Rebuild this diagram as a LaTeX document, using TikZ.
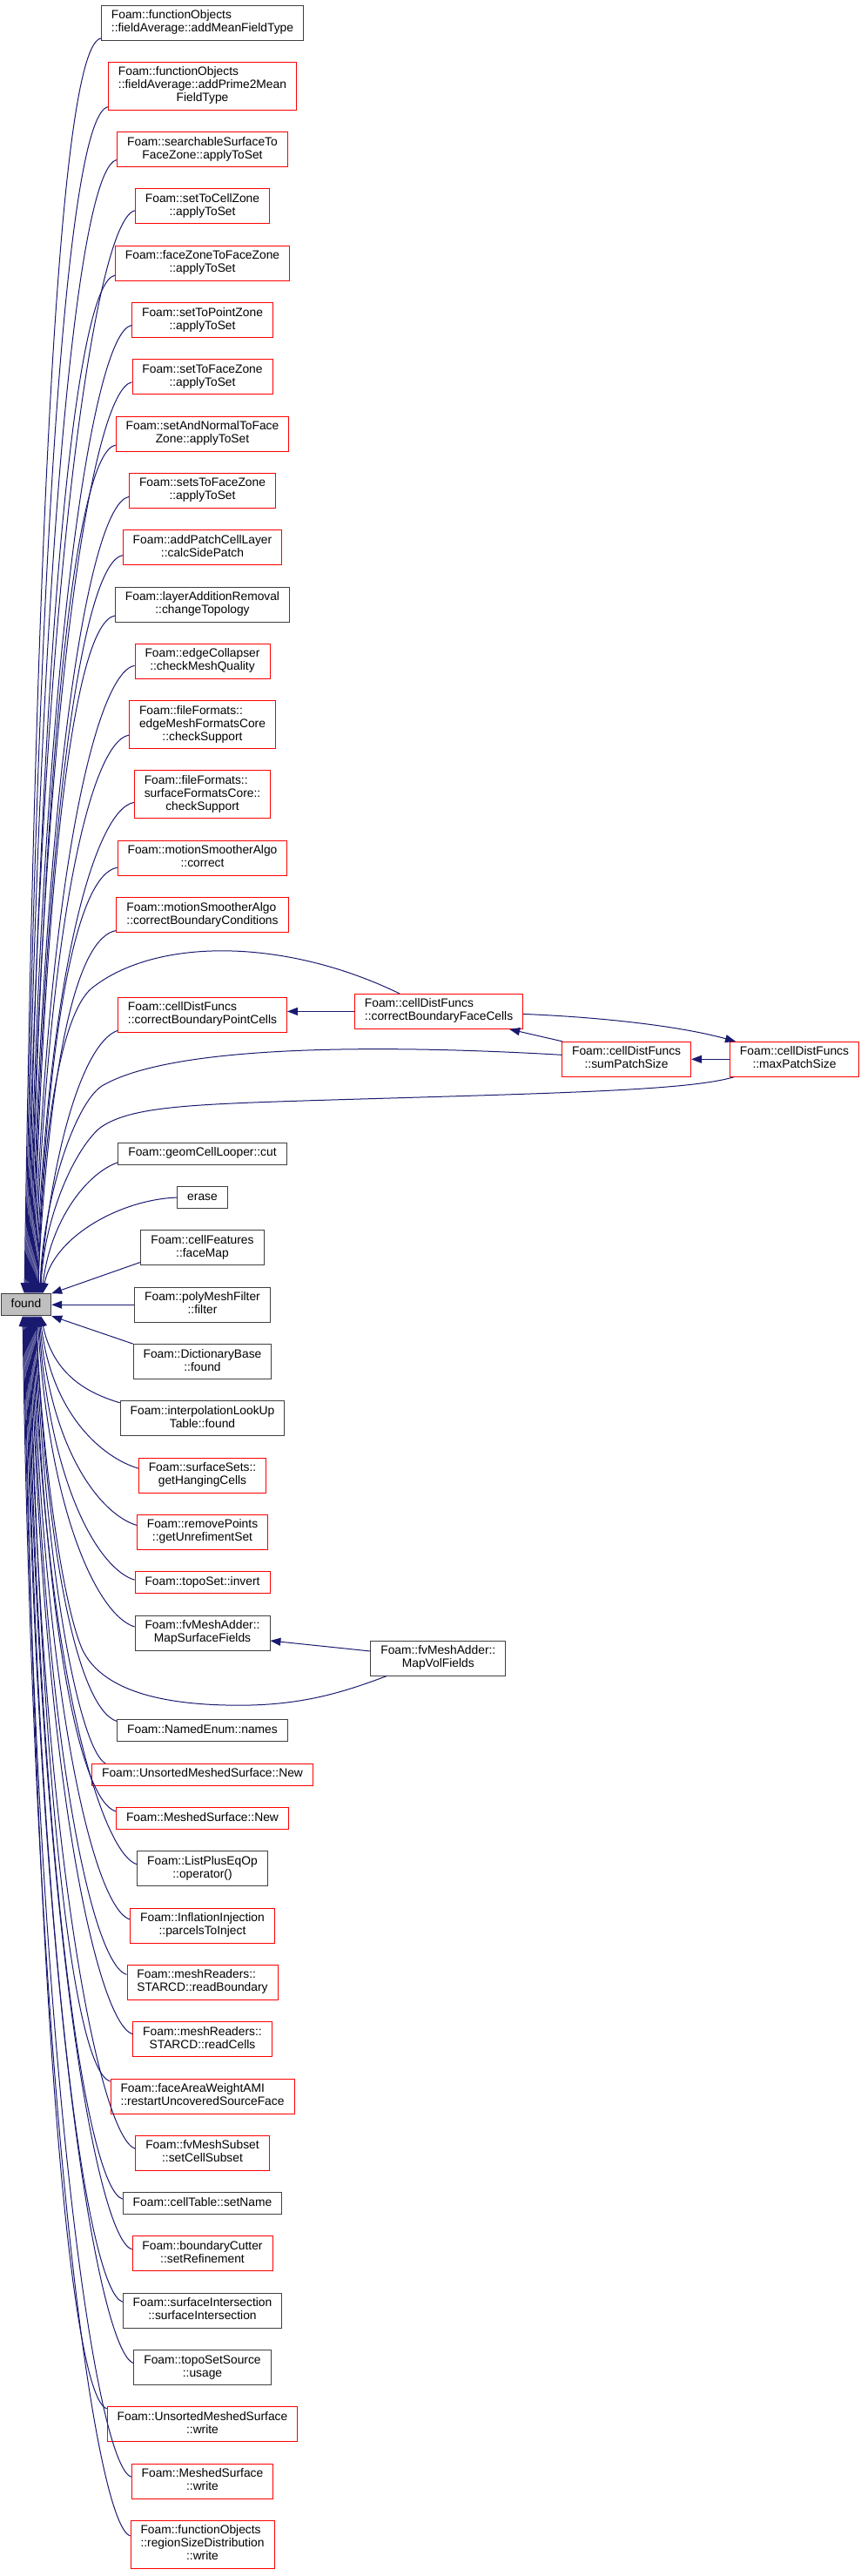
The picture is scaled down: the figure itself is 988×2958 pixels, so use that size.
\documentclass[tikz,border=0pt]{standalone}
\usepackage{fontspec}
\newfontfamily\dxfont{Liberation Sans}
\usetikzlibrary{arrows.meta, positioning}
\definecolor{dxblue}{HTML}{191970}
\definecolor{dxred}{HTML}{FF0000}
\definecolor{dxdark}{HTML}{404040}
\definecolor{dxgrey}{HTML}{BFBFBF}
% all lines left aligned except the last, which is centred
\newcommand{\dxlbl}[2]{\begin{tabular}{@{}l@{}}#1\\\multicolumn{1}{@{}c@{}}{#2}\end{tabular}}

\begin{document}
\begin{tikzpicture}[
    x=1pt, y=-1pt,
    node distance=24.4pt,
    fn/.style={rectangle, draw, fill=white, line width=0.9pt, inner xsep=11.5pt, inner ysep=5pt, font={\dxfont\fontsize{13.8}{15}\selectfont}},
    redbox/.style={fn, draw=dxred},
    blackbox/.style={fn, draw=dxdark},
    foundbox/.style={fn, draw=dxdark, fill=dxgrey},
    single/.style={text height=10.5pt, text depth=4.5pt},
    callarrow/.style={draw=dxblue, line width=1pt, -{Triangle[length=12pt, width=9pt]}}
]
    \useasboundingbox (0,0) rectangle (988,2958);

    % callers above
    \node[blackbox] (n1) at (232.5,26) {\dxlbl{Foam::functionObjects}{::fieldAverage::addMeanFieldType}};
    \node[redbox, below=of n1] (n2) {\dxlbl{Foam::functionObjects\\::fieldAverage::addPrime2Mean}{FieldType}};
    \node[redbox, below=of n2] (n3) {\dxlbl{Foam::searchableSurfaceTo}{FaceZone::applyToSet}};
    \node[redbox, below=of n3] (n4) {\dxlbl{Foam::setToCellZone}{::applyToSet}};
    \node[redbox, below=of n4] (n5) {\dxlbl{Foam::faceZoneToFaceZone}{::applyToSet}};
    \node[redbox, below=of n5] (n6) {\dxlbl{Foam::setToPointZone}{::applyToSet}};
    \node[redbox, below=of n6] (n7) {\dxlbl{Foam::setToFaceZone}{::applyToSet}};
    \node[redbox, below=of n7] (n8) {\dxlbl{Foam::setAndNormalToFace}{Zone::applyToSet}};
    \node[redbox, below=of n8] (n9) {\dxlbl{Foam::setsToFaceZone}{::applyToSet}};
    \node[redbox, below=of n9] (n10) {\dxlbl{Foam::addPatchCellLayer}{::calcSidePatch}};
    \node[blackbox, below=of n10] (n11) {\dxlbl{Foam::layerAdditionRemoval}{::changeTopology}};
    \node[redbox, below=of n11] (n12) {\dxlbl{Foam::edgeCollapser}{::checkMeshQuality}};
    \node[redbox, below=of n12] (n13) {\dxlbl{Foam::fileFormats::\\edgeMeshFormatsCore}{::checkSupport}};
    \node[redbox, below=of n13] (n14) {\dxlbl{Foam::fileFormats::\\surfaceFormatsCore::}{checkSupport}};
    \node[redbox, below=of n14] (n15) {\dxlbl{Foam::motionSmootherAlgo}{::correct}};
    \node[redbox, below=of n15] (n16) {\dxlbl{Foam::motionSmootherAlgo}{::correctBoundaryConditions}};

    % cellDistFuncs group
    \node[redbox, below=74pt of n16] (pcells) {\dxlbl{Foam::cellDistFuncs}{::correctBoundaryPointCells}};
    \node[redbox, right=77pt of pcells, yshift=4pt] (fcells) {\dxlbl{Foam::cellDistFuncs}{::correctBoundaryFaceCells}};
    \node[redbox, below right=14pt and 44pt of fcells] (sumps) {\dxlbl{Foam::cellDistFuncs}{::sumPatchSize}};
    \node[redbox, right=44pt of sumps] (maxps) {\dxlbl{Foam::cellDistFuncs}{::maxPatchSize}};

    \node[blackbox, single, below=126pt of pcells] (cut) {Foam::geomCellLooper::cut};
    \node[blackbox, single, below=of cut] (erase) {erase};
    \node[blackbox, below=of erase] (facemap) {\dxlbl{Foam::cellFeatures}{::faceMap}};
    \node[blackbox, below=of facemap] (filter) {\dxlbl{Foam::polyMeshFilter}{::filter}};
    \node[foundbox, single, left=95pt of filter] (found) {found};

    % callers below
    \node[blackbox, below=of filter] (dfound) {\dxlbl{Foam::DictionaryBase}{::found}};
    \node[blackbox, below=of dfound] (lfound) {\dxlbl{Foam::interpolationLookUp}{Table::found}};
    \node[redbox, below=of lfound] (hang) {\dxlbl{Foam::surfaceSets::}{getHangingCells}};
    \node[redbox, below=of hang] (unref) {\dxlbl{Foam::removePoints}{::getUnrefimentSet}};
    \node[redbox, single, below=of unref] (invert) {Foam::topoSet::invert};
    \node[blackbox, below=of invert] (mapsurf) {\dxlbl{Foam::fvMeshAdder::}{MapSurfaceFields}};
    \node[blackbox, right=115pt of mapsurf, yshift=-29pt] (mapvol) {\dxlbl{Foam::fvMeshAdder::}{MapVolFields}};
    \node[blackbox, single, below=79pt of mapsurf] (names) {Foam::NamedEnum::names};
    \node[redbox, single, below=of names] (usnew) {Foam::UnsortedMeshedSurface::New};
    \node[redbox, single, below=of usnew] (msnew) {Foam::MeshedSurface::New};
    \node[blackbox, below=of msnew] (pluseq) {\dxlbl{Foam::ListPlusEqOp}{::operator()}};
    \node[redbox, below=of pluseq] (parcels) {\dxlbl{Foam::InflationInjection}{::parcelsToInject}};
    \node[redbox, below=of parcels] (rbound) {\dxlbl{Foam::meshReaders::}{STARCD::readBoundary}};
    \node[redbox, below=of rbound] (rcells) {\dxlbl{Foam::meshReaders::}{STARCD::readCells}};
    \node[redbox, below=of rcells] (restart) {\dxlbl{Foam::faceAreaWeightAMI}{::restartUncoveredSourceFace}};
    \node[redbox, below=of restart] (subset) {\dxlbl{Foam::fvMeshSubset}{::setCellSubset}};
    \node[blackbox, single, below=of subset] (setname) {Foam::cellTable::setName};
    \node[redbox, below=of setname] (refine) {\dxlbl{Foam::boundaryCutter}{::setRefinement}};
    \node[blackbox, below=of refine] (sinter) {\dxlbl{Foam::surfaceIntersection}{::surfaceIntersection}};
    \node[blackbox, below=of sinter] (usage) {\dxlbl{Foam::topoSetSource}{::usage}};
    \node[redbox, below=of usage] (uswrite) {\dxlbl{Foam::UnsortedMeshedSurface}{::write}};
    \node[redbox, below=of uswrite] (mswrite) {\dxlbl{Foam::MeshedSurface}{::write}};
    \node[redbox, below=of mswrite] (rsdwrite) {\dxlbl{Foam::functionObjects\\::regionSizeDistribution}{::write}};

    % edges into the top of found
    \draw[callarrow] ([yshift=-18pt]n1.west) .. controls +(-45,8) and (42,550) .. ([xshift=-2pt]found.north);
    \draw[callarrow] ([yshift=-24pt]n2.west) .. controls +(-45,8) and (43,600) .. ([xshift=-1pt]found.north);
    \draw[callarrow] ([yshift=-12pt]n3.west) .. controls +(-45,8) and (44,639) .. (found.north);
    \draw[callarrow] ([yshift=-5pt]n4.west) .. controls +(-45,8) and (45,676) .. ([xshift=1pt]found.north);
    \draw[callarrow] ([yshift=-14pt]n5.west) .. controls +(-45,8) and (46,725) .. ([xshift=2pt]found.north);
    \draw[callarrow] ([yshift=-6pt]n6.west) .. controls +(-45,8) and (47,762) .. ([xshift=3pt]found.north);
    \draw[callarrow] ([yshift=-6pt]n7.west) .. controls +(-45,8) and (48,804) .. ([xshift=4pt]found.north);
    \draw[callarrow] ([yshift=-13pt]n8.west) .. controls +(-45,8) and (49,852) .. ([xshift=5pt]found.north);
    \draw[callarrow] ([yshift=-7pt]n9.west) .. controls +(-45,8) and (50,890) .. ([xshift=6pt]found.north);
    \draw[callarrow] ([yshift=-9pt]n10.west) .. controls +(-45,8) and (51,934) .. ([xshift=7pt]found.north);
    \draw[callarrow] ([yshift=-13pt]n11.west) .. controls +(-45,8) and (52,979) .. ([xshift=8pt]found.north);
    \draw[callarrow] ([yshift=-5pt]n12.west) .. controls +(-45,8) and (53,1016) .. ([xshift=9pt]found.north);
    \draw[callarrow] ([yshift=-12pt]n13.west) .. controls +(-45,8) and (54,1068) .. ([xshift=10pt]found.north);
    \draw[callarrow] ([yshift=-9pt]n14.west) .. controls +(-45,8) and (55,1118) .. ([xshift=11pt]found.north);
    \draw[callarrow] ([yshift=-11pt]n15.west) .. controls +(-45,8) and (56,1166) .. ([xshift=12pt]found.north);
    \draw[callarrow] ([yshift=-18pt]n16.west) .. controls +(-45,8) and (57,1214) .. ([xshift=13pt]found.north);
    \draw[callarrow] ([xshift=52pt]fcells.north west) .. controls (330,1078) and (180,1075) .. (105,1135) .. controls (70,1165) and (48,1300) .. ([xshift=14pt]found.north);
    \draw[callarrow] ([yshift=-18pt]pcells.west) .. controls +(-35,12) and (62,1300) .. ([xshift=15pt]found.north);
    \draw[callarrow] ([yshift=5pt]sumps.west) .. controls (450,1200) and (200,1198) .. (117,1247) .. controls (85,1268) and (49,1380) .. ([xshift=16pt]found.north);
    \draw[callarrow] ([xshift=5pt]maxps.south west) .. controls (790,1252) and (650,1255) .. (380,1263) .. controls (220,1268) and (150,1270) .. (115,1295) .. controls (85,1320) and (50,1400) .. ([xshift=17pt]found.north);
    \draw[callarrow] ([yshift=-10pt]cut.west) .. controls +(-35,12) and (58,1400) .. ([xshift=18pt]found.north);
    \draw[callarrow] (erase.west) .. controls +(-64,2) and (61,1420) .. ([xshift=19pt]found.north);

    % edges into the right side of found
    \draw[callarrow] ([yshift=4pt]facemap.south west) -- (found.north east);
    \draw[callarrow] (filter.west) -- (found.east);
    \draw[callarrow] (dfound.north west) -- (found.south east);

    % edges into the bottom of found
    \draw[callarrow] ([yshift=18pt]lfound.west) .. controls +(-40,-12) and (61,1577) .. ([xshift=17pt]found.south);
    \draw[callarrow] ([yshift=8pt]hang.west) .. controls +(-40,-12) and (60,1626) .. ([xshift=16pt]found.south);
    \draw[callarrow] ([yshift=8pt]unref.west) .. controls +(-40,-12) and (59,1669) .. ([xshift=15pt]found.south);
    \draw[callarrow] ([yshift=3pt]invert.west) .. controls +(-40,-12) and (58,1710) .. ([xshift=14pt]found.south);
    \draw[callarrow] ([yshift=7pt]mapsurf.west) .. controls +(-40,-12) and (57,1745) .. ([xshift=13pt]found.south);
    \draw[callarrow] ([xshift=19pt]mapvol.south west) .. controls (390,1945) and (340,1960) .. (260,1958) .. controls (170,1956) and (115,1935) .. (95,1895) .. controls (70,1840) and (46,1650) .. ([xshift=12pt]found.south);
    \draw[callarrow] ([yshift=11pt]names.west) .. controls +(-40,-12) and (55,1813) .. ([xshift=11pt]found.south);
    \draw[callarrow] ([xshift=16pt]usnew.north west) .. controls +(-25,-12) and (54,1845) .. ([xshift=10pt]found.south);
    \draw[callarrow] ([yshift=8pt]msnew.west) .. controls +(-40,-12) and (53,1882) .. ([xshift=9pt]found.south);
    \draw[callarrow] ([yshift=5pt]pluseq.west) .. controls +(-40,-12) and (52,1922) .. ([xshift=8pt]found.south);
    \draw[callarrow] ([yshift=7pt]parcels.west) .. controls +(-40,-12) and (51,1963) .. ([xshift=7pt]found.south);
    \draw[callarrow] ([yshift=9pt]rbound.west) .. controls +(-40,-12) and (50,2004) .. ([xshift=6pt]found.south);
    \draw[callarrow] ([yshift=6pt]rcells.west) .. controls +(-40,-12) and (49,2048) .. ([xshift=5pt]found.south);
    \draw[callarrow] ([yshift=17pt]restart.west) .. controls +(-40,-12) and (48,2084) .. ([xshift=4pt]found.south);
    \draw[callarrow] ([yshift=5pt]subset.west) .. controls +(-40,-12) and (47,2134) .. ([xshift=3pt]found.south);
    \draw[callarrow] ([yshift=5pt]setname.west) .. controls +(-40,-12) and (46,2171) .. ([xshift=2pt]found.south);
    \draw[callarrow] ([yshift=5pt]refine.west) .. controls +(-40,-12) and (45,2210) .. ([xshift=1pt]found.south);
    \draw[callarrow] ([yshift=10pt]sinter.west) .. controls +(-40,-12) and (44,2250) .. (found.south);
    \draw[callarrow] ([yshift=5pt]usage.west) .. controls +(-40,-12) and (43,2295) .. ([xshift=-1pt]found.south);
    \draw[callarrow] ([yshift=18pt]uswrite.west) .. controls +(-40,-12) and (42,2328) .. ([xshift=-2pt]found.south);
    \draw[callarrow] ([yshift=5pt]mswrite.west) .. controls +(-40,-12) and (41,2380) .. ([xshift=-3pt]found.south);
    \draw[callarrow] ([yshift=10pt]rsdwrite.west) .. controls +(-40,-12) and (40,2423) .. ([xshift=-4pt]found.south);

    % edges among the callers
    \draw[callarrow] (fcells.west) -- (fcells.west -| pcells.east);
    \draw[callarrow] ([xshift=1pt]sumps.north west) -- ([xshift=-16pt]fcells.south east);
    \draw[callarrow] (maxps.west) -- (sumps.east);
    \draw[callarrow] ([yshift=-3pt]fcells.east) .. controls (690,1168) and (780,1178) .. ([xshift=7pt]maxps.north west);
    \draw[callarrow] ([yshift=8pt]mapvol.west) -- ([yshift=-9pt]mapsurf.east);
\end{tikzpicture}
\end{document}
